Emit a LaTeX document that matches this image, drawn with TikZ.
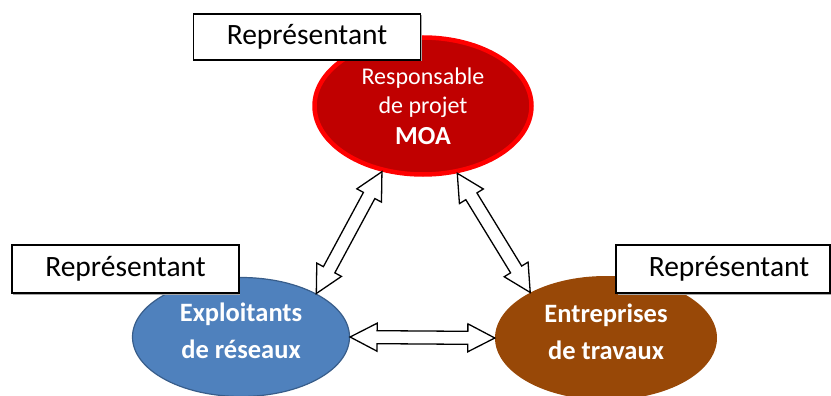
\documentclass[tikz,border=0pt]{standalone}
\usepackage{fontspec}
\setmainfont{Carlito}
\usetikzlibrary{calc,shapes.geometric}
\definecolor{moafill}{HTML}{C00000}
\definecolor{moaline}{HTML}{FF0000}
\definecolor{bluefill}{HTML}{4F81BD}
\definecolor{blueline}{HTML}{385D8A}
\definecolor{brownfill}{HTML}{984807}
\tikzset{
  actor/.style={ellipse, inner sep=0pt, text=white, align=center},
  repbox/.style={draw=black, line width=1.4pt, fill=white, inner sep=0pt,
    font=\fontsize{29.5}{33}\selectfont},
  boxshadow/.style={fill=black!35, draw=none},
  barrow/.style={draw=black, line width=1.3pt, fill=white, line join=miter},
}
\newcommand\dblblock[2]{%
  \path[barrow] (#1)
    -- ($(#1)!27pt!(#2)!14pt!90:(#2)$)
    -- ($(#1)!27pt!(#2)!6.5pt!90:(#2)$)
    -- ($(#2)!27pt!(#1)!6.5pt!-90:(#1)$)
    -- ($(#2)!27pt!(#1)!14pt!-90:(#1)$)
    -- (#2)
    -- ($(#2)!27pt!(#1)!14pt!90:(#1)$)
    -- ($(#2)!27pt!(#1)!6.5pt!90:(#1)$)
    -- ($(#1)!27pt!(#2)!6.5pt!-90:(#2)$)
    -- ($(#1)!27pt!(#2)!14pt!-90:(#2)$)
    -- cycle;}
\begin{document}
\begin{tikzpicture}[x=1pt,y=-1pt]
\useasboundingbox (0,0) rectangle (831,396);
% ellipses
\node[actor, fill=moafill, draw=moaline, line width=4.5pt,
      minimum width=217pt, minimum height=137pt,
      font=\fontsize{24}{29}\selectfont] (moa) at (423,106)
  {Responsable\\de projet\\[2pt]{\fontsize{26}{29}\selectfont\bfseries MOA}};
\node[actor, fill=bluefill, draw=blueline, line width=1.2pt,
      minimum width=217pt, minimum height=119pt,
      font=\fontsize{26.5}{37}\selectfont\bfseries] (exp) at (241,337)
  {Exploitants\\de réseaux\rule[-12pt]{0pt}{12pt}};
\node[actor, fill=brownfill,
      minimum width=222pt, minimum height=124pt,
      font=\fontsize{26.5}{37}\selectfont\bfseries] (ent) at (606,338)
  {Entreprises\\de travaux\rule[-12pt]{0pt}{12pt}};
% connector end points on the ellipse borders
\coordinate (mL) at (moa.238);
\coordinate (mR) at (moa.297);
\coordinate (eT) at (exp.30);
\coordinate (eR) at (exp.east);
\coordinate (tT) at (ent.149);
\coordinate (tL) at (ent.west);
\dblblock{mL}{eT}
\dblblock{mR}{tT}
\dblblock{eR}{tL}
% representative boxes
\fill[boxshadow] (194.5,15.5) rectangle (421.5,61.5);
\node[repbox, minimum width=227pt, minimum height=46pt] (r1) at (307,37)
  {Représentant};
\fill[boxshadow] (13,246.5) rectangle (240,294.5);
\node[repbox, minimum width=227pt, minimum height=48pt] (r2) at (125.5,269)
  {Représentant};
\fill[boxshadow] (617.5,246.5) rectangle (831.5,294.5);
\node[repbox, minimum width=214pt, minimum height=48pt] (r3) at (723,269)
  {\hspace*{12pt}Représentant};
\end{tikzpicture}
\end{document}
